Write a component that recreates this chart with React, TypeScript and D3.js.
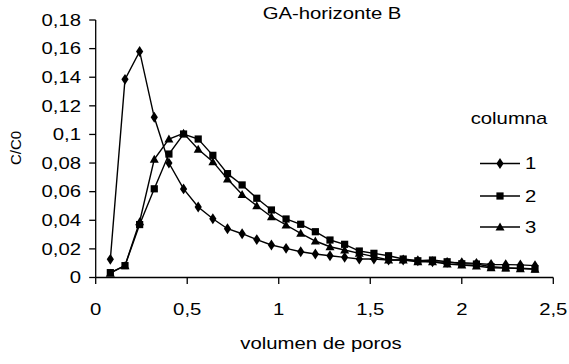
import React from "react";
import * as d3 from "d3";

const title = "GA-horizonte B";
const xTitle = "volumen de poros";
const yTitle = "C/C0";
const legendTitle = "columna";
const seriesNames = ["1", "2", "3"];

const poreVolumes = [
  0.08, 0.16, 0.24, 0.32, 0.4, 0.48, 0.56, 0.64, 0.72, 0.8,
  0.88, 0.96, 1.04, 1.12, 1.2, 1.28, 1.36, 1.44, 1.52, 1.6,
  1.68, 1.76, 1.84, 1.92, 2.0, 2.08, 2.16, 2.24, 2.32, 2.4,
];

const col1 = [
  0.0127, 0.1385, 0.158, 0.112, 0.08, 0.0619, 0.0493, 0.0411, 0.0341, 0.0306,
  0.0265, 0.0227, 0.0204, 0.018, 0.0164, 0.0152, 0.0141, 0.0129, 0.0129, 0.0122,
  0.0122, 0.0117, 0.011, 0.0106, 0.0103, 0.0099, 0.0091, 0.009, 0.0088, 0.0083,
];
const col2 = [
  0.0034, 0.0083, 0.037, 0.062, 0.0863, 0.1003, 0.0968, 0.0854, 0.0726, 0.0647,
  0.0554, 0.0472, 0.0409, 0.0372, 0.032, 0.0262, 0.0232, 0.0185, 0.0169, 0.0152,
  0.0129, 0.0117, 0.0122, 0.011, 0.0096, 0.0094, 0.0075, 0.0068, 0.0065, 0.006,
];
const col3 = [
  0.003, 0.0083, 0.039, 0.0826, 0.0968, 0.1008, 0.0896, 0.081, 0.0689, 0.058,
  0.0502, 0.0425, 0.0367, 0.0309, 0.0255, 0.0215, 0.0192, 0.0169, 0.0146, 0.0122,
  0.0122, 0.011, 0.011, 0.0094, 0.0087, 0.008, 0.0068, 0.0066, 0.0062, 0.0058,
];

const xTicks = [0, 0.5, 1, 1.5, 2, 2.5];
const xTickLabels = ["0", "0,5", "1", "1,5", "2", "2,5"];
const yTicks = [0, 0.02, 0.04, 0.06, 0.08, 0.1, 0.12, 0.14, 0.16, 0.18];
const yTickLabels = ["0", "0,02", "0,04", "0,06", "0,08", "0,1", "0,12", "0,14", "0,16", "0,18"];

const W = 569;
const H = 364;
const SX = 1.27;
const FONT = "Arial, 'Liberation Sans', sans-serif";

const x = d3.scaleLinear().domain([0, 2.5]).range([95.7, 553.3]);
const y = d3.scaleLinear().domain([0, 0.18]).range([277.5, 20]);

function SText({ x: tx, y: ty, anchor = "middle", size = 16, baseline = "auto", children }: any) {
  return (
    <text
      transform={`translate(${tx},${ty}) scale(${SX},1)`}
      textAnchor={anchor}
      dominantBaseline={baseline}
      fontFamily={FONT}
      fontSize={size}
      fill="#000"
    >
      {children}
    </text>
  );
}

function Marker({ kind, cx, cy }: { kind: number; cx: number; cy: number }) {
  if (kind === 0) {
    const s = d3.symbol().type(d3.symbolDiamond).size(34)();
    return <path d={s as string} transform={`translate(${cx},${cy}) scale(1.15,1)`} fill="#000" />;
  }
  if (kind === 1) {
    return <rect x={cx - 3.6} y={cy - 3.6} width={7.2} height={7.2} fill="#000" />;
  }
  return <path d={`M${cx},${cy - 4.5}L${cx + 4.5},${cy + 3.5}L${cx - 4.5},${cy + 3.5}Z`} fill="#000" />;
}

export default function App() {
  const series = [col1, col2, col3];
  const line = d3
    .line<number>()
    .x((_, i) => x(poreVolumes[i]))
    .y((d) => y(d));
  const legendY = [163.5, 196, 227];
  return (
    <svg width={W} height={H} style={{ position: "absolute", left: 0, top: 0, background: "#fff" }}>
      <rect width={W} height={H} fill="#fff" />
      {/* axes */}
      <line x1={x(0)} x2={x(0)} y1={y(0.18)} y2={y(0)} stroke="#000" strokeWidth={1.3} />
      <line x1={x(0)} x2={x(2.5)} y1={y(0)} y2={y(0)} stroke="#000" strokeWidth={1.3} />
      {yTicks.map((t, i) => (
        <g key={"yt" + i}>
          <line x1={x(0) - 6.5} x2={x(0)} y1={y(t)} y2={y(t)} stroke="#000" strokeWidth={1.3} />
          <SText x={81} y={y(t)} anchor="end" baseline="central">
            {yTickLabels[i]}
          </SText>
        </g>
      ))}
      {xTicks.map((t, i) => (
        <g key={"xt" + i}>
          <line x1={x(t)} x2={x(t)} y1={y(0)} y2={y(0) + 6.5} stroke="#000" strokeWidth={1.3} />
          <SText x={x(t)} y={315}>
            {xTickLabels[i]}
          </SText>
        </g>
      ))}
      {/* series */}
      {series.map((s, k) => (
        <g key={"s" + k}>
          <path d={line(s) as string} fill="none" stroke="#000" strokeWidth={1.4} />
          {s.map((v, i) => (
            <Marker key={i} kind={k} cx={x(poreVolumes[i])} cy={y(v)} />
          ))}
        </g>
      ))}
      {/* titles */}
      <SText x={332} y={19}>
        {title}
      </SText>
      <SText x={321} y={349}>
        {xTitle}
      </SText>
      <text
        transform={`translate(21,148) rotate(-90)`}
        textAnchor="middle"
        fontFamily={FONT}
        fontSize={15}
        fill="#000"
      >
        {yTitle}
      </text>
      {/* legend */}
      <SText x={509} y={124}>
        {legendTitle}
      </SText>
      {seriesNames.map((n, k) => (
        <g key={"lg" + k}>
          <line x1={480} x2={520} y1={legendY[k]} y2={legendY[k]} stroke="#000" strokeWidth={1.4} />
          <Marker kind={k} cx={500} cy={legendY[k]} />
          <SText x={525} y={legendY[k]} anchor="start" baseline="central">
            {n}
          </SText>
        </g>
      ))}
    </svg>
  );
}
